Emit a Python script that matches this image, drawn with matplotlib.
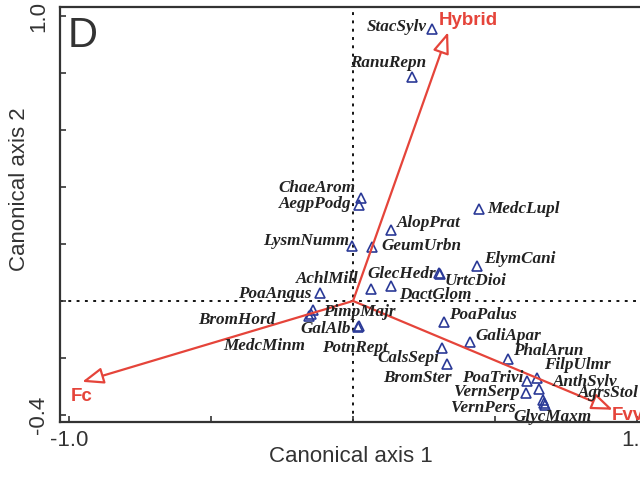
import matplotlib
matplotlib.use('Agg')
import matplotlib.pyplot as plt
from matplotlib.patches import FancyArrowPatch

# species scores on the first two canonical axes
species = ['StacSylv', 'RanuRepn', 'ChaeArom', 'AegpPodg', 'AlopPrat', 'LysmNumm',
           'GeumUrbn', 'MedcLupl', 'ElymCani', 'GlecHedr', 'UrtcDioi', 'AchlMill',
           'DactGlom', 'PoaAngus', 'PimpMajr', 'BromHord', 'MedcMinm', 'GalAlb',
           'PotnRept', 'PoaPalus', 'GaliApar', 'CalsSepi', 'BromSter', 'PhalArun',
           'PoaTrivi', 'FilpUlmr', 'AnthSylv', 'VernSerp', 'AgrsStol', 'VernPers',
           'GlycMaxm']
axis1 = [0.278, 0.208, 0.028, 0.021, 0.134, -0.004,
         0.067, 0.444, 0.437, 0.303, 0.305, 0.063,
         0.134, -0.116, -0.141, -0.155, -0.148, 0.021,
         0.018, 0.320, 0.412, 0.313, 0.331, 0.546,
         0.613, 0.648, 0.655, 0.609, 0.669, 0.673,
         0.676]
axis2 = [0.954, 0.786, 0.361, 0.337, 0.249, 0.193,
         0.189, 0.323, 0.123, 0.098, 0.096, 0.042,
         0.053, 0.028, -0.032, -0.053, -0.046, -0.088,
         -0.091, -0.074, -0.144, -0.165, -0.221, -0.204,
         -0.281, -0.270, -0.309, -0.323, -0.347, -0.358,
         -0.365]

# environmental variables (biplot arrows)
env_names = ['Hybrid', 'Fc', 'Fvv']
env_axis1 = [0.335, -0.954, 0.915]
env_axis2 = [0.944, -0.284, -0.382]

# where each name sits relative to its triangle (pixels)
label_offsets = {
    'StacSylv': (-35, 2), 'RanuRepn': (-24, 14), 'ChaeArom': (-44, 10),
    'AegpPodg': (-44, 1), 'AlopPrat': (38, 7), 'LysmNumm': (-46, 5),
    'GeumUrbn': (49, 1), 'MedcLupl': (44, 0), 'ElymCani': (43, 7),
    'GlecHedr': (-37, -1), 'UrtcDioi': (36, -7), 'AchlMill': (-44, 10),
    'DactGlom': (44, -9), 'PoaAngus': (-45, -1), 'PimpMajr': (46, -2),
    'BromHord': (-72, -4), 'MedcMinm': (-47, -32), 'GalAlb': (-33, -3),
    'PotnRept': (-3, -21), 'PoaPalus': (39, 7), 'GaliApar': (38, 6),
    'CalsSepi': (-34, -10), 'BromSter': (-30, -14), 'PhalArun': (40, 8),
    'PoaTrivi': (-34, 3), 'FilpUlmr': (40, 13), 'AnthSylv': (46, 7),
    'VernSerp': (-39, 1), 'AgrsStol': (65, 7), 'VernPers': (-61, -5),
    'GlycMaxm': (8, -12),
}
env_offsets = {'Hybrid': (20, 12), 'Fc': (-1, -15), 'Fvv': (15, -6)}

red = '#e5443a'
blue = '#2b3a97'
ink = '#333333'

plt.rcParams['font.family'] = ['Liberation Sans', 'DejaVu Sans']

fig = plt.figure(figsize=(6.4, 4.82), dpi=100)
ax = fig.add_axes([60 / 640, 1 - 422 / 482, 594 / 640, 415 / 482])
ax.set_xlim(-1.032, 1.06)
ax.set_ylim(-0.425, 1.032)

ax.axhline(0, color='black', lw=1.3, dashes=(1.6, 3), zorder=1)
ax.axvline(0, color='black', lw=1.3, dashes=(1.6, 3), zorder=1)

ax.plot(axis1, axis2, linestyle='none', marker='^', ms=7.5, mfc='none',
        mec=blue, mew=1.2, zorder=2)

for name, x, y in zip(species, axis1, axis2):
    ax.annotate(name, (x, y), xytext=label_offsets[name], textcoords='offset pixels',
                ha='center', va='center', fontsize=12.3, fontweight='bold',
                fontstyle='italic', family='Liberation Serif', color='#222222',
                zorder=4)

for name, x, y in zip(env_names, env_axis1, env_axis2):
    arrow = FancyArrowPatch((0, 0), (x, y), arrowstyle='-|>,head_length=13,head_width=5',
                            mutation_scale=1, lw=1.6, ec=red, fc='white',
                            shrinkA=0, shrinkB=0, zorder=3)
    ax.add_patch(arrow)
    ax.annotate(name, (x, y), xytext=env_offsets[name], textcoords='offset pixels',
                ha='center', va='center', fontsize=13.5, fontweight='bold',
                color=red, zorder=5, annotation_clip=False)

ax.text(0.012, 0.904, 'D', transform=ax.transAxes, fontsize=30, va='baseline',
        color=ink)

ax.set_xticks([-1.0, -0.5, 0.0, 0.5, 1.0])
ax.set_xticklabels(['-1.0', '', '', '', '1.0'])
ax.set_yticks([-0.4, -0.2, 0.0, 0.2, 0.4, 0.6, 0.8, 1.0])
ax.set_yticklabels(['-0.4', '', '', '', '', '', '', '1.0'], rotation=90, va='center')
ax.tick_params(direction='in', length=4, width=1.2, labelsize=16, labelcolor=ink,
               color=ink)
ax.tick_params(axis='x', pad=6)
ax.tick_params(axis='y', pad=8)

for spine in ax.spines.values():
    spine.set_linewidth(1.6)
    spine.set_color(ink)

ax.set_xlabel('Canonical axis 1', fontsize=16, color=ink)
ax.set_ylabel('Canonical axis 2', fontsize=16, color=ink)
ax.xaxis.set_label_coords(0.49, -0.058)
ax.yaxis.set_label_coords(-0.05, 0.561)

fig.savefig('out.png', dpi=100)
